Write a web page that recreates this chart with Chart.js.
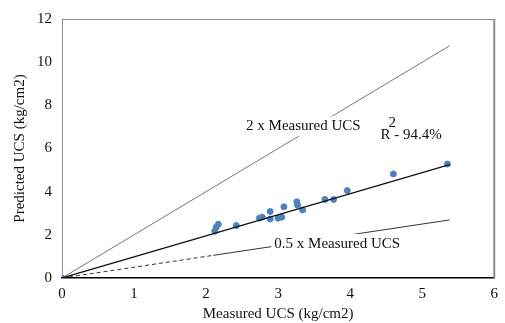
<!DOCTYPE html>
<html>
<head>
<meta charset="utf-8">
<script src="https://cdn.jsdelivr.net/npm/chart.js@4"></script>
<style>
  html, body { margin: 0; padding: 0; background: #fff; }
  #wrap { width: 505px; height: 323px; }
</style>
</head>
<body>
<div id="wrap"><canvas id="ucsChart" width="505" height="323"></canvas></div>
<script>
// measured vs predicted UCS (kg/cm2)
const measured = [0, 2.12, 2.14, 2.17, 2.42, 2.74, 2.78, 2.89, 2.89, 3.0, 3.05, 3.08, 3.26, 3.27, 3.34, 3.65, 3.77, 3.96, 4.6, 5.35];
const predicted = [0, 2.17, 2.35, 2.49, 2.43, 2.77, 2.82, 3.08, 2.73, 2.77, 2.82, 3.3, 3.53, 3.38, 3.15, 3.64, 3.64, 4.05, 4.82, 5.28];

// reference lines
const trendX = [0, 5.38];
const trendY = [0, 5.25];
const doubleX = [0, 5.38];
const doubleY = [0, 10.76];
const halfDashX = [0, 2.1];
const halfDashY = [0, 1.05];
const halfSolidX = [2.1, 5.38];
const halfSolidY = [1.05, 2.69];

const xTicks = [0, 1, 2, 3, 4, 5, 6];
const yTicks = [0, 2, 4, 6, 8, 10, 12];

const SERIF = "'Liberation Serif', 'Times New Roman', serif";

function pts(xs, ys) {
  return xs.map((x, i) => ({ x: x, y: ys[i] }));
}

function lineSet(xs, ys, color, width, dash) {
  return {
    data: pts(xs, ys),
    showLine: true,
    borderColor: color,
    borderWidth: width,
    borderDash: dash || [],
    pointRadius: 0,
    pointHoverRadius: 0,
    fill: false
  };
}

// text notes drawn over the lines with a white box behind them
const notesPlugin = {
  id: "notes",
  afterDatasetsDraw(chart) {
    const ctx = chart.ctx;
    const xs = chart.scales.x, ys = chart.scales.y;
    ctx.save();
    ctx.font = "15px " + SERIF;
    ctx.textBaseline = "middle";

    function boxed(text, x, y) {
      const px = xs.getPixelForValue(x), py = ys.getPixelForValue(y);
      const w = ctx.measureText(text).width;
      ctx.fillStyle = "#fff";
      ctx.fillRect(px - w / 2 - 3, py - 10, w + 6, 20);
      ctx.fillStyle = "#111";
      ctx.textAlign = "center";
      ctx.fillText(text, px, py);
    }

    boxed("2 x Measured UCS", 3.35, 7.03);
    boxed("0.5 x Measured UCS", 3.82, 1.58);

    // R squared
    const rx = xs.getPixelForValue(4.42), ry = ys.getPixelForValue(6.62);
    ctx.fillStyle = "#111";
    ctx.textAlign = "left";
    ctx.fillText("R - 94.4%", rx, ry);
    ctx.fillText("2", rx + 8, ry - 12);
    ctx.restore();
  },
  afterDraw(chart) {
    const a = chart.chartArea, ctx = chart.ctx;
    ctx.save();
    ctx.strokeStyle = "#8c8c8c";
    ctx.lineWidth = 1;
    ctx.beginPath();
    ctx.moveTo(a.left, a.top + 0.5);
    ctx.lineTo(a.right, a.top + 0.5);
    ctx.stroke();
    ctx.lineWidth = 2;
    ctx.beginPath();
    ctx.moveTo(a.right, a.top);
    ctx.lineTo(a.right, a.bottom);
    ctx.stroke();
    ctx.restore();
  }
};

new Chart(document.getElementById("ucsChart"), {
  type: "scatter",
  data: {
    datasets: [
      Object.assign(lineSet(trendX, trendY, "#111", 1.2), { order: 0 }),
      {
        data: pts(measured, predicted),
        backgroundColor: "#4f81bd",
        borderColor: "#4f81bd",
        pointRadius: 3,
        pointHoverRadius: 3,
        order: 1
      },
      Object.assign(lineSet(doubleX, doubleY, "#777", 1), { order: 2 }),
      Object.assign(lineSet(halfDashX, halfDashY, "#333", 1, [4, 3]), { order: 2 }),
      Object.assign(lineSet(halfSolidX, halfSolidY, "#333", 1), { order: 2 })
    ]
  },
  options: {
    responsive: false,
    animation: false,
    layout: { padding: { top: 14, right: 9, left: 0, bottom: 0 } },
    plugins: {
      legend: { display: false },
      tooltip: { enabled: false }
    },
    scales: {
      x: {
        type: "linear",
        min: 0,
        max: 6,
        afterFit: s => { s.height = 45; },
        afterBuildTicks: s => { s.ticks = xTicks.map(v => ({ value: v })); },
        grid: { display: false, drawTicks: false },
        border: { display: true, color: "#000", width: 1.5 },
        ticks: { padding: 7, color: "#111", font: { family: SERIF, size: 15 } },
        title: {
          display: true,
          text: "Measured UCS (kg/cm2)",
          color: "#111",
          padding: { top: 0, bottom: 0 },
          font: { family: SERIF, size: 15 }
        }
      },
      y: {
        type: "linear",
        min: 0,
        max: 12,
        afterFit: s => { s.width = 62; },
        afterBuildTicks: s => { s.ticks = yTicks.map(v => ({ value: v })); },
        grid: { display: false, drawTicks: false },
        border: { display: true, color: "#8c8c8c", width: 1 },
        ticks: { padding: 10, color: "#111", font: { family: SERIF, size: 15 } },
        title: {
          display: true,
          text: "Predicted UCS (kg/cm2)",
          color: "#111",
          padding: { top: 11, bottom: 0 },
          font: { family: SERIF, size: 15 }
        }
      }
    }
  },
  plugins: [notesPlugin]
});
</script>
</body>
</html>
